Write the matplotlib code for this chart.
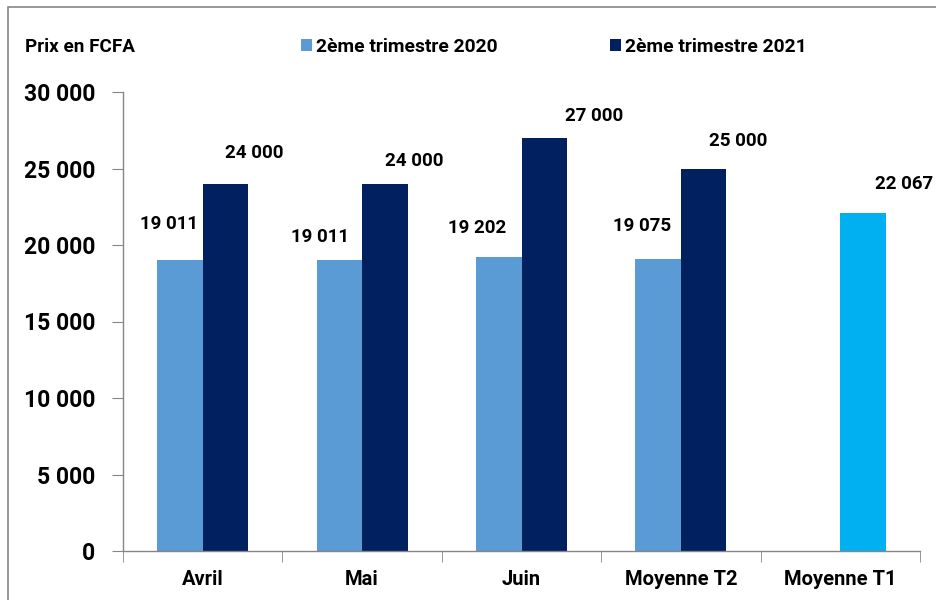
import matplotlib
matplotlib.use("Agg")
import matplotlib.pyplot as plt
from matplotlib.patches import Rectangle
from matplotlib.ticker import FuncFormatter, FixedLocator
import numpy as np

plt.rcParams['font.family'] = ['Roboto', 'DejaVu Sans']
plt.rcParams['font.weight'] = 'bold'

categories = ["Avril", "Mai", "Juin", "Moyenne T2", "Moyenne T1"]
serie_2020 = [19011, 19011, 19202, 19075]
serie_2021 = [24000, 24000, 27000, 25000]
moyenne_t1 = [22067]
label_2020 = "2ème trimestre 2020"
label_2021 = "2ème trimestre 2021"
y_ticks = [0, 5000, 10000, 15000, 20000, 25000, 30000]

# label offsets in pixels (dx, dy) from top centre of bar
off_2020 = [(-11, 36), (-19, 23), (-22, 29), (-16, 33)]
off_2021 = [(29, 31), (29, 23), (50, 22), (34, 28)]
off_t1 = [(41, 29)]

c2020 = "#5B9BD5"
c2021 = "#002060"
ct1 = "#00B0F0"
grey = "#868686"

def fmt(v):
    return f"{v:,.0f}".replace(",", " ")

fig = plt.figure(figsize=(9.36, 6.0), dpi=100)
ax = fig.add_axes([123/936, 1-551/600, (920-123)/936, (551-92)/600])

w = 0.286
x = np.arange(len(categories))
b1 = ax.bar(x[:4] - w/2, serie_2020, width=w, color=c2020, label=label_2020)
b2 = ax.bar(x[:4] + w/2, serie_2021, width=w, color=c2021, label=label_2021)
b3 = ax.bar(x[4:] + w/2, moyenne_t1, width=w, color=ct1)

for bars, vals, offs in ((b1, serie_2020, off_2020), (b2, serie_2021, off_2021), (b3, moyenne_t1, off_t1)):
    for r, v, (dx, dy) in zip(bars, vals, offs):
        ax.annotate(fmt(v), (r.get_x() + r.get_width()/2, v), xytext=(dx, dy),
                    textcoords='offset pixels', ha='center', va='center',
                    fontsize=13.5, fontweight='bold', color='black')

ax.set_xlim(-0.5, len(categories) - 0.5)
ax.set_ylim(0, 30000)
ax.set_yticks(y_ticks)
ax.yaxis.set_major_formatter(FuncFormatter(lambda v, p: fmt(v)))
ax.set_xticks(x)
ax.set_xticklabels(categories)
ax.xaxis.set_minor_locator(FixedLocator(np.arange(-0.5, len(categories), 1.0)))
ax.tick_params(axis='x', which='major', length=0, pad=14, labelsize=14.5)
ax.tick_params(axis='x', which='minor', length=8, color=grey, direction='out')
ax.tick_params(axis='y', length=8, color=grey, direction='out', pad=12, labelsize=16.5)
for lab in ax.get_xticklabels() + ax.get_yticklabels():
    lab.set_fontweight('bold')

for s in ('top', 'right'):
    ax.spines[s].set_visible(False)
for s in ('left', 'bottom'):
    ax.spines[s].set_color(grey)
    ax.spines[s].set_linewidth(1.0)

fig.text(25/936, 1-47/600, "Prix en FCFA", ha='left', va='center', fontsize=13.6, fontweight='bold')
leg = fig.legend(handles=[b1, b2], loc='center left', bbox_to_anchor=(301/936, 1-47/600),
                 ncol=2, frameon=False, fontsize=13.9, handlelength=0.55, handleheight=0.55,
                 handletextpad=0.25, columnspacing=5.8, borderpad=0, borderaxespad=0)
for t in leg.get_texts():
    t.set_fontweight('bold')

fig.patches.append(Rectangle((8/936, -0.1), 1.2, 1 - 7/600 + 0.1, transform=fig.transFigure,
                             fill=False, edgecolor=grey, linewidth=1.2))

fig.savefig("out.png", dpi=100)
